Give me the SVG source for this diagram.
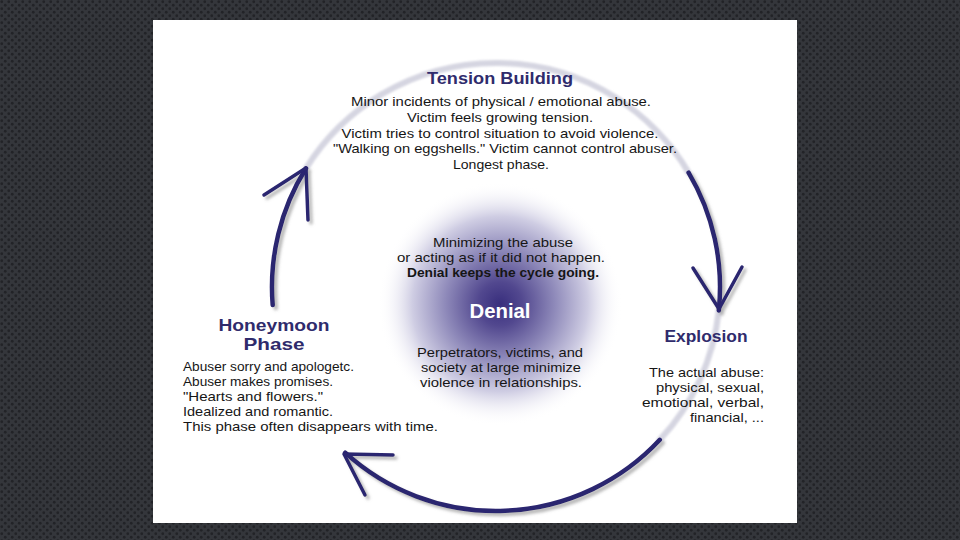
<svg xmlns="http://www.w3.org/2000/svg" width="960" height="540" viewBox="0 0 960 540">
  <defs>
    <pattern id="bgdots" x="0" y="0" width="7" height="7" patternUnits="userSpaceOnUse">
      <rect width="7" height="7" fill="#34363b"/>
      <circle cx="1.75" cy="1.75" r="1.4" fill="#222327"/>
      <circle cx="5.25" cy="5.25" r="1.4" fill="#222327"/>
    </pattern>
    <radialGradient id="denialGlow" cx="500" cy="304" r="122" gradientUnits="userSpaceOnUse">
      <stop offset="0" stop-color="#382e7d"/>
      <stop offset="0.18" stop-color="#52488f"/>
      <stop offset="0.45" stop-color="#8f8aba"/>
      <stop offset="0.72" stop-color="#cfcde3"/>
      <stop offset="1" stop-color="#ffffff" stop-opacity="0"/>
    </radialGradient>
    <filter id="shadow" x="-20%" y="-20%" width="140%" height="140%">
      <feDropShadow dx="3" dy="3" stdDeviation="1.8" flood-color="#808080" flood-opacity="0.55"/>
    </filter>
    <filter id="soft" x="-10%" y="-10%" width="120%" height="120%">
      <feGaussianBlur stdDeviation="1.2"/>
    </filter>
  </defs>
  <style>
    .body { font-family: "Liberation Sans", Arial, sans-serif; font-size: 13px; fill: #161616; }
    .bold { font-weight: bold; }
    .head { font-family: "Liberation Sans", Arial, sans-serif; font-size: 17px; font-weight: bold; fill: #2f2b6c; }
    .mid { text-anchor: middle; }
    .end { text-anchor: end; }
    .arc { fill: none; stroke: #2b2570; stroke-width: 4.5; stroke-linecap: round; }
    .light { fill: none; stroke: #d5d5e1; stroke-width: 6; stroke-linecap: round; }
    .head-line { fill: none; stroke: #2b2570; stroke-width: 3.5; stroke-linecap: round; stroke-linejoin: round; }
  </style>

  <rect x="0" y="0" width="960" height="540" fill="url(#bgdots)"/>
  <rect x="153" y="20" width="644" height="503" fill="#ffffff"/>

  <g id="connectors">
    <g filter="url(#soft)">
      <path class="light" d="M306,168.3 A224,224 0 0 1 688.6,172.6"/>
      <path class="light" d="M718.8,310.4 A224,224 0 0 1 659.8,439.8"/>
    </g>
    <g filter="url(#shadow)">
      <path class="arc" d="M272.7,305 A224,224 0 0 1 306,168.3"/>
      <polyline class="head-line" points="264,195 306,168 308,220"/>
      <path class="arc" d="M688.6,172.6 A224,224 0 0 1 718.8,310.4"/>
      <polyline class="head-line" points="693,268 719,309 742,267"/>
      <path class="arc" d="M659.8,439.8 A224,224 0 0 1 345.2,452.7"/>
      <polyline class="head-line" points="393,455 344,454 365,495"/>
    </g>
  </g>

  <g id="denial">
    <circle cx="500" cy="304" r="122" fill="url(#denialGlow)"/>
    <text class="body mid" x="503" y="247" textLength="140" lengthAdjust="spacingAndGlyphs">Minimizing the abuse</text>
    <text class="body mid" x="501" y="262" textLength="208" lengthAdjust="spacingAndGlyphs">or acting as if it did not happen.</text>
    <text class="body mid bold" x="503" y="277" textLength="192" lengthAdjust="spacingAndGlyphs">Denial keeps the cycle going.</text>
    <text class="body mid bold" x="500" y="318" style="font-size:20px;fill:#ffffff" textLength="61" lengthAdjust="spacingAndGlyphs">Denial</text>
    <text class="body mid" x="500" y="357" textLength="166" lengthAdjust="spacingAndGlyphs">Perpetrators, victims, and</text>
    <text class="body mid" x="501" y="372" textLength="160" lengthAdjust="spacingAndGlyphs">society at large minimize</text>
    <text class="body mid" x="501" y="387" textLength="162" lengthAdjust="spacingAndGlyphs">violence in relationships.</text>
  </g>

  <g id="tension-building">
    <text class="head mid" x="500" y="84" textLength="146" lengthAdjust="spacingAndGlyphs">Tension Building</text>
    <text class="body mid" x="501" y="106" textLength="300" lengthAdjust="spacingAndGlyphs">Minor incidents of physical / emotional abuse.</text>
    <text class="body mid" x="500" y="122" textLength="186" lengthAdjust="spacingAndGlyphs">Victim feels growing tension.</text>
    <text class="body mid" x="500" y="137.5" textLength="317" lengthAdjust="spacingAndGlyphs">Victim tries to control situation to avoid violence.</text>
    <text class="body mid" x="505" y="153" textLength="344" lengthAdjust="spacingAndGlyphs">"Walking on eggshells." Victim cannot control abuser.</text>
    <text class="body mid" x="501" y="169" textLength="96" lengthAdjust="spacingAndGlyphs">Longest phase.</text>
  </g>

  <g id="explosion">
    <text class="head mid" x="706" y="342" textLength="83" lengthAdjust="spacingAndGlyphs">Explosion</text>
    <text class="body end" x="764" y="377" textLength="115" lengthAdjust="spacingAndGlyphs">The actual abuse:</text>
    <text class="body end" x="764" y="392" textLength="108" lengthAdjust="spacingAndGlyphs">physical, sexual,</text>
    <text class="body end" x="764" y="407" textLength="122" lengthAdjust="spacingAndGlyphs">emotional, verbal,</text>
    <text class="body end" x="764" y="422" textLength="74" lengthAdjust="spacingAndGlyphs">financial, ...</text>
  </g>

  <g id="honeymoon-phase">
    <text class="head mid" x="274" y="331" textLength="111" lengthAdjust="spacingAndGlyphs">Honeymoon</text>
    <text class="head mid" x="274" y="350" textLength="61" lengthAdjust="spacingAndGlyphs">Phase</text>
    <text class="body" x="183" y="371" textLength="171" lengthAdjust="spacingAndGlyphs">Abuser sorry and apologetc.</text>
    <text class="body" x="183" y="386" textLength="150" lengthAdjust="spacingAndGlyphs">Abuser makes promises.</text>
    <text class="body" x="183" y="401" textLength="140" lengthAdjust="spacingAndGlyphs">"Hearts and flowers."</text>
    <text class="body" x="183" y="416" textLength="150" lengthAdjust="spacingAndGlyphs">Idealized and romantic.</text>
    <text class="body" x="183" y="431" textLength="255" lengthAdjust="spacingAndGlyphs">This phase often disappears with time.</text>
  </g>
</svg>
